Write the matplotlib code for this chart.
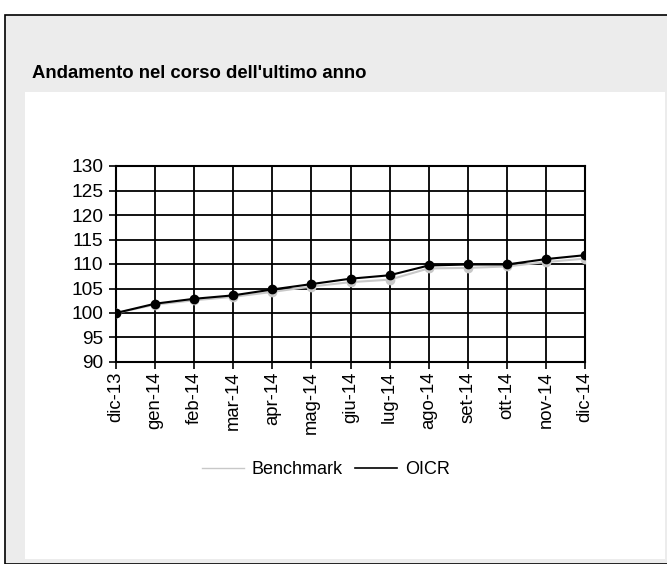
import matplotlib.pyplot as plt
from matplotlib.patches import Rectangle

plt.rcParams['font.family'] = ['Liberation Sans', 'DejaVu Sans']

mesi = ['dic-13', 'gen-14', 'feb-14', 'mar-14', 'apr-14', 'mag-14', 'giu-14',
        'lug-14', 'ago-14', 'set-14', 'ott-14', 'nov-14', 'dic-14']
benchmark = [100, 101.7, 102.6, 103.3, 104.3, 105.4, 106.3, 106.8, 109.1, 109.2, 109.5, 110.4, 111.1]
oicr = [100, 101.9, 102.9, 103.6, 104.8, 105.9, 107.0, 107.7, 109.7, 109.9, 109.9, 111.0, 111.8]
y_ticks = list(range(90, 131, 5))

W, H = 667, 564
fig = plt.figure(figsize=(W / 100, H / 100), dpi=100)

# cornice grigia e pannello bianco
fig.patches.append(Rectangle((5 / W, 0), 1, 1 - 15 / H, transform=fig.transFigure,
                             facecolor='#ececec', edgecolor='black', lw=1.2, zorder=-2))
fig.patches.append(Rectangle((25 / W, 5 / H), (665 - 25) / W, (559 - 92) / H,
                             transform=fig.transFigure, facecolor='white',
                             edgecolor='none', zorder=-1))
fig.text(32 / W, 1 - 74 / H, "Andamento nel corso dell'ultimo anno",
         fontsize=13.3, fontweight='bold', va='center', ha='left')

ax = fig.add_axes([116 / W, 1 - 362 / H, (585 - 116) / W, (362 - 166) / H])
x = list(range(len(mesi)))
ax.plot(x, benchmark, color='#c8c8c8', lw=1.5, marker='o', ms=6, label='Benchmark', zorder=3)
ax.plot(x, oicr, color='black', lw=1.5, marker='o', ms=6, label='OICR', zorder=4)

ax.set_xlim(0, len(mesi) - 1)
ax.set_ylim(90, 130)
ax.set_yticks(y_ticks)
ax.set_xticks(x)
ax.set_xticklabels(mesi, rotation=90, fontsize=13.3)
ax.tick_params(axis='y', labelsize=13.8, length=5, width=1.2, direction='out', pad=4)
ax.tick_params(axis='x', length=5, width=1.2, direction='out', pad=2)
ax.grid(True, color='black', lw=1.3)
for s in ax.spines.values():
    s.set_linewidth(1.5)
ax.set_axisbelow(True)

handles, labels = ax.get_legend_handles_labels()
leg = fig.legend([plt.Line2D([], [], color='#c8c8c8', lw=1),
                  plt.Line2D([], [], color='black', lw=1.2)], labels,
                 loc='center', bbox_to_anchor=(326 / W, 1 - 470 / H), ncol=2,
                 frameon=False, fontsize=13, handlelength=2.3, handletextpad=0.45,
                 columnspacing=0.7)

fig.savefig('out.png', dpi=100)
